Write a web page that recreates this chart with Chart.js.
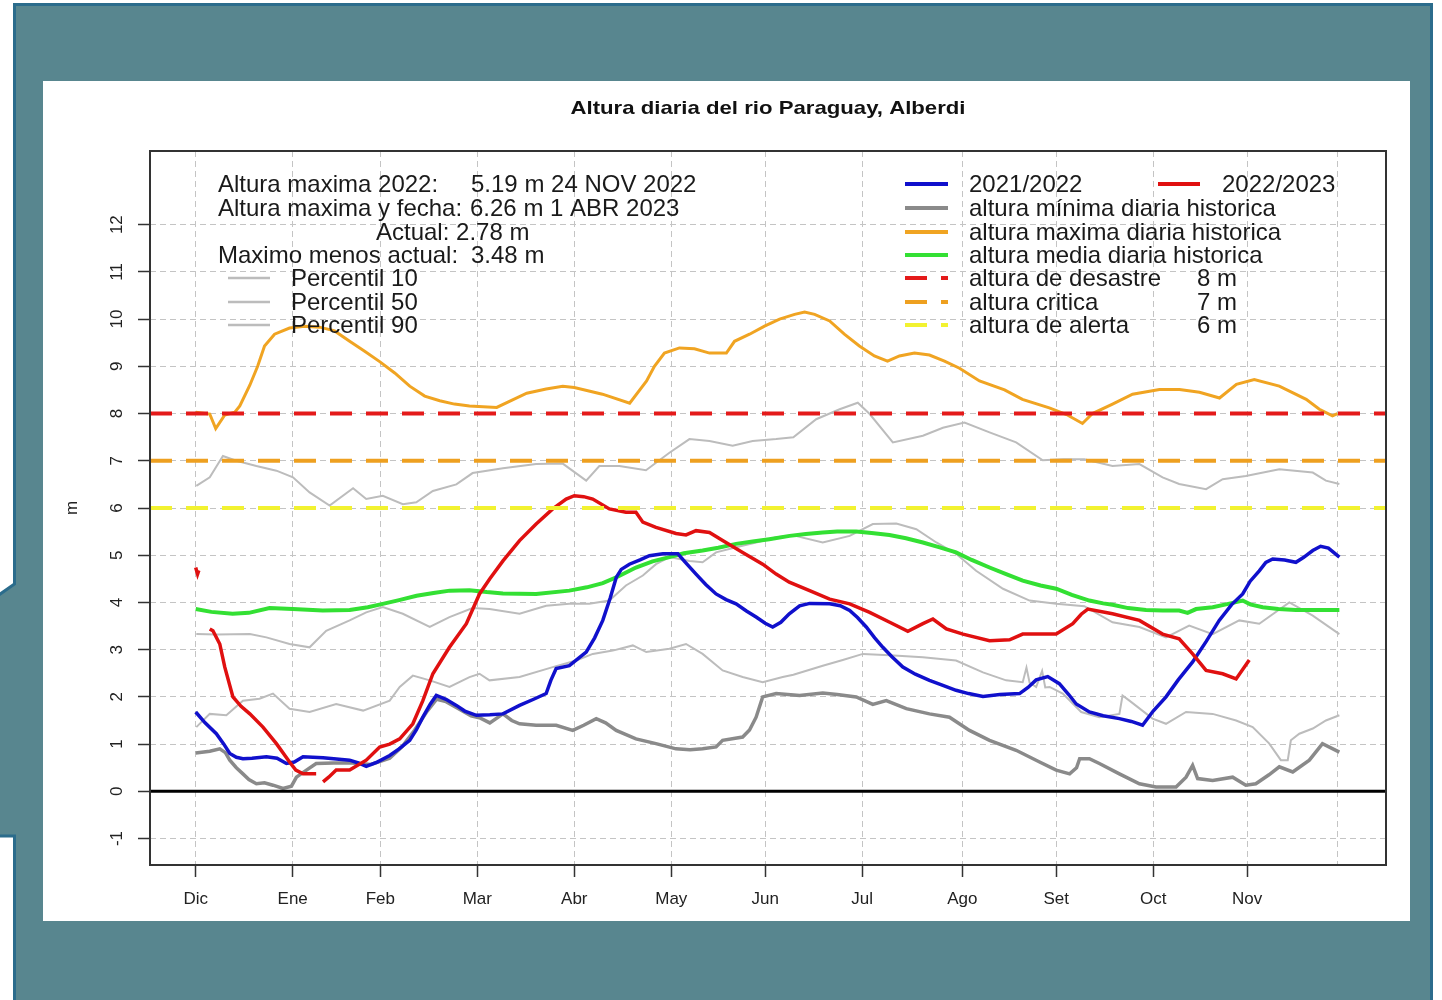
<!DOCTYPE html>
<html>
<head>
<meta charset="utf-8">
<title>Altura diaria del rio Paraguay, Alberdi</title>
<script src="https://cdn.jsdelivr.net/npm/chart.js@4.4.1/dist/chart.umd.min.js"></script>
<style>
  html, body { margin: 0; padding: 0; background: #fff; }
  body { width: 1442px; height: 1000px; position: relative; overflow: hidden; }
  #frame { position: absolute; left: 0; top: 0; }
  #panel { position: absolute; left: 43px; top: 81px; width: 1367px; height: 840px; background: #fff; }
  #chart { display: block; }
</style>
</head>
<body>
<svg id="frame" width="1442" height="1000">
  <path d="M14.5 1003 L14.5 836 L-4 836 L-4 597 L14.5 584 L14.5 4.5 L1431.5 4.5 L1431.5 1003 Z"
        fill="#58868f" stroke="#2b6c8c" stroke-width="3"/>
</svg>
<div id="panel"><canvas id="chart" width="1367" height="840"></canvas></div>
<script>
// days counted from 1 December, heights in metres
const monthTicks = [0, 31, 59, 90, 121, 152, 182, 213, 245, 275, 306, 336, 365];
const monthNames = ["Dic", "Ene", "Feb", "Mar", "Abr", "May", "Jun", "Jul", "Ago", "Set", "Oct", "Nov", ""];
const yTicks = [-1, 0, 1, 2, 3, 4, 5, 6, 7, 8, 9, 10, 11, 12];

const serie2122 = [[0,1.68],[3,1.45],[6.6,1.22],[9,1.0],[10.9,0.8],[13,0.72],[15.1,0.69],[18,0.7],[22.6,0.73],[26,0.7],[29,0.59],[31.5,0.62],[34.3,0.73],[40.7,0.71],[49.2,0.66],[52,0.6],[54.5,0.53],[58,0.62],[62,0.76],[65,0.9],[68.4,1.08],[70.5,1.3],[72.6,1.57],[75,1.85],[76.9,2.03],[80,1.95],[83.3,1.82],[86,1.7],[89.7,1.61],[94,1.62],[98.2,1.64],[103.5,1.82],[108,1.95],[112,2.07],[113.5,2.35],[115.2,2.6],[119.4,2.66],[124.8,2.95],[127.5,3.25],[130.1,3.62],[132.5,4.1],[134.4,4.53],[136,4.7],[138.6,4.81],[142,4.9],[145,4.99],[149.3,5.03],[154.1,5.03],[156.5,4.85],[159.9,4.6],[163,4.38],[166.3,4.18],[169.5,4.06],[172.7,3.97],[176,3.82],[179.1,3.69],[182,3.56],[184.4,3.48],[187,3.58],[189.7,3.76],[193,3.93],[196.2,3.98],[202.6,3.97],[206,3.93],[209,3.83],[211.5,3.68],[214.3,3.48],[217,3.25],[219.6,3.05],[222.5,2.85],[226,2.63],[230,2.48],[234.5,2.35],[239,2.24],[243,2.14],[247,2.07],[251.6,2.01],[257,2.05],[263.3,2.07],[266,2.2],[268.6,2.36],[272.3,2.43],[276,2.28],[279,2.05],[281.4,1.85],[285.6,1.68],[290,1.6],[295.2,1.54],[299,1.48],[302.6,1.4],[306,1.7],[310.1,2.0],[314,2.36],[318.6,2.74],[323,3.18],[327.1,3.62],[331,3.95],[334.6,4.18],[337,4.45],[339.9,4.67],[342,4.85],[344.2,4.92],[348,4.9],[351.6,4.85],[354,4.95],[357,5.1],[359.5,5.19],[362,5.15],[365.5,4.96]];

const serie2223 = [[0,4.74],[0.6,4.6],[1,4.68],[2.5,null],[4.5,3.44],[5.5,3.4],[7.7,3.12],[9.3,2.63],[11.9,2.0],[14.5,1.8],[17.3,1.64],[21.5,1.36],[25.8,1.01],[30,0.62],[32,0.45],[34.3,0.37],[38.5,0.37],[39.6,null],[40.7,0.2],[42.5,0.3],[44.9,0.45],[49.2,0.45],[54.5,0.66],[58.8,0.94],[62,1.0],[65.2,1.11],[69.4,1.43],[72.6,1.92],[75.8,2.49],[81.1,3.05],[86.5,3.55],[90.7,4.18],[94,4.5],[98.2,4.88],[103.5,5.31],[108.8,5.66],[114.1,5.98],[118.4,6.19],[121,6.26],[124,6.24],[126.9,6.19],[132.2,5.98],[137.5,5.91],[140.7,5.91],[142.9,5.7],[147.1,5.59],[153.5,5.46],[156.7,5.43],[159.9,5.52],[164.2,5.48],[168.4,5.31],[174.8,5.06],[181.2,4.81],[185.5,4.6],[189.7,4.43],[196.2,4.25],[202.6,4.07],[209,3.97],[215.4,3.79],[221.8,3.58],[227.6,3.39],[232.4,3.55],[235.6,3.65],[239.9,3.44],[245.2,3.33],[253.7,3.19],[260.1,3.21],[264.3,3.33],[275,3.33],[280.3,3.55],[283,3.75],[285.1,3.86],[293,3.76],[301.6,3.62],[309,3.33],[314.3,3.23],[318.6,2.91],[322.9,2.56],[328.2,2.49],[332.5,2.38],[336.7,2.78]];

const minHist = [[0,0.81],[4.5,0.85],[7.7,0.9],[9.5,0.82],[10.9,0.66],[13,0.5],[15.1,0.37],[17,0.25],[19.4,0.16],[22,0.18],[24.7,0.13],[27.9,0.06],[30.6,0.11],[32.2,0.3],[35.4,0.45],[38.5,0.59],[44,0.6],[50,0.6],[56,0.57],[62,0.7],[66,0.95],[70,1.3],[74,1.7],[77,1.95],[80,1.9],[84,1.75],[88,1.6],[91,1.55],[94,1.45],[98.2,1.64],[101,1.5],[103.5,1.43],[108.8,1.4],[115.2,1.4],[120.5,1.29],[124,1.4],[128,1.54],[131,1.45],[134.4,1.29],[140.7,1.11],[147.1,1.01],[153.5,0.9],[158,0.88],[162,0.9],[166.3,0.94],[168.4,1.08],[174.8,1.15],[177,1.3],[179.1,1.57],[181.2,2.0],[185.5,2.07],[193,2.03],[200.4,2.08],[205,2.05],[211.1,2.0],[216.4,1.84],[220.7,1.92],[227.1,1.75],[234.5,1.64],[240.9,1.57],[247.3,1.29],[253.7,1.08],[262.2,0.87],[269.7,0.62],[275,0.45],[279.3,0.37],[281.5,0.5],[282.5,0.69],[285.6,0.69],[288.8,0.59],[295.2,0.37],[301.6,0.16],[306.9,0.09],[313.3,0.09],[316.5,0.3],[318.6,0.55],[320.2,0.27],[325,0.23],[331.4,0.3],[335.6,0.13],[338.8,0.16],[343,0.35],[346.3,0.52],[350.6,0.41],[355.9,0.66],[360.1,1.01],[365.5,0.83]];

const maxHist = [[0,8.03],[4.5,7.99],[6.4,7.68],[9.3,7.97],[12.5,8.03],[14.1,8.16],[17.3,8.6],[19.8,9.0],[22,9.43],[25.2,9.68],[30,9.81],[34.8,9.85],[39.6,9.83],[44.4,9.75],[49.2,9.53],[54,9.32],[58.8,9.1],[63.6,8.86],[68.4,8.58],[73.2,8.37],[78,8.27],[82.7,8.2],[87.5,8.16],[96.2,8.13],[105.8,8.43],[112,8.52],[117.3,8.58],[121,8.55],[130,8.41],[138.7,8.22],[144.1,8.69],[146.6,9.0],[149.8,9.28],[154.6,9.39],[159.4,9.37],[164.2,9.28],[169.6,9.28],[172.2,9.53],[177,9.68],[181.8,9.85],[186.6,10.0],[191.4,10.1],[194.6,10.15],[197.8,10.1],[202.6,9.96],[207.3,9.68],[212.1,9.43],[216.9,9.22],[221.1,9.11],[224.9,9.22],[229.7,9.28],[234.5,9.24],[239.3,9.11],[244.1,8.96],[250.5,8.69],[258.5,8.5],[264.2,8.3],[272.8,8.12],[278.3,7.98],[283.4,7.79],[286.6,8.0],[293,8.2],[299.4,8.41],[308,8.51],[314.4,8.51],[320.8,8.45],[327.2,8.33],[332.6,8.62],[338.3,8.72],[346.3,8.58],[354.9,8.3],[359.1,8.09],[363.3,7.95],[364.9,8.0]];

const meanHist = [[0,3.86],[5,3.8],[11.8,3.76],[17,3.78],[23.6,3.88],[31,3.86],[40.6,3.83],[49.2,3.84],[55,3.9],[59.8,3.97],[65,4.05],[70.6,4.14],[76,4.2],[81.2,4.25],[87.5,4.26],[93,4.22],[98.2,4.19],[108.8,4.18],[119.4,4.25],[125,4.32],[130.1,4.41],[135,4.55],[140.7,4.74],[146,4.87],[151.4,4.96],[156,5.04],[162,5.1],[167,5.16],[172.7,5.24],[178,5.29],[183.3,5.34],[189.8,5.41],[195,5.45],[200.4,5.48],[205,5.5],[211.1,5.5],[216,5.47],[221.7,5.43],[227,5.36],[232.4,5.27],[237.5,5.17],[243,5.06],[248,4.9],[253.7,4.74],[259,4.6],[264.3,4.46],[270,4.36],[275,4.29],[280,4.16],[285.6,4.04],[290,3.98],[293,3.95],[298,3.88],[303.7,3.84],[309,3.83],[314.3,3.83],[317,3.78],[319.7,3.86],[325,3.9],[330,3.97],[334.6,4.04],[337,3.96],[341,3.9],[346,3.86],[351.6,3.84],[358,3.84],[365.5,3.84]];

const perc90 = [[0.2,6.47],[4.5,6.65],[8.7,7.1],[13,7.0],[19.4,6.89],[25.8,6.79],[31.1,6.65],[36.4,6.33],[42.8,6.05],[50.3,6.42],[54.5,6.19],[59.8,6.26],[66.2,6.08],[70.5,6.12],[75.8,6.36],[83.3,6.5],[88.5,6.74],[98.2,6.84],[108.8,6.93],[117.3,6.94],[124.8,6.58],[129,6.89],[135.4,6.89],[143.9,6.8],[151.4,7.17],[157.8,7.46],[164.2,7.42],[171.6,7.32],[178,7.42],[185.5,7.46],[191,7.5],[198.3,7.88],[205.8,8.09],[211.6,8.23],[215.4,7.99],[222.8,7.39],[232.4,7.53],[238.8,7.7],[245.7,7.81],[253.7,7.6],[262.2,7.39],[270.7,7.01],[277.1,7.03],[284,7.03],[293,6.89],[301.6,6.93],[309,6.65],[314.3,6.51],[322.9,6.4],[328.2,6.61],[335.6,6.68],[346.3,6.82],[357,6.75],[361.2,6.58],[365.5,6.51]];

const perc50 = [[0.2,3.33],[6.6,3.32],[17.3,3.33],[22.6,3.26],[30,3.12],[36.4,3.05],[41.7,3.4],[49.2,3.62],[54.5,3.79],[59.8,3.9],[66.2,3.76],[74.8,3.48],[81.1,3.69],[88.5,3.88],[93.9,3.86],[103.5,3.76],[112,3.93],[119.4,3.97],[125.8,3.97],[132.2,4.04],[137.5,4.36],[142.9,4.57],[147.1,4.81],[151.4,4.96],[157.8,4.88],[162,4.85],[166.3,5.06],[172.7,5.17],[179.1,5.27],[185.5,5.38],[191,5.42],[200.4,5.27],[209,5.41],[216.4,5.66],[223.9,5.67],[230.3,5.55],[236.7,5.27],[243,5.03],[249.4,4.67],[258,4.29],[266.5,4.04],[275,3.97],[284,3.92],[293,3.58],[301.6,3.48],[310.1,3.26],[317.5,3.51],[325,3.33],[333.5,3.62],[339.9,3.55],[349.5,4.0],[357,3.72],[365.5,3.33]];

const perc10 = [[0.2,1.36],[4.5,1.64],[9.8,1.61],[15.1,1.92],[20.4,1.96],[24.7,2.07],[30,1.75],[36.4,1.68],[44.9,1.85],[53.5,1.71],[62,1.92],[65.2,2.21],[69.4,2.45],[74.8,2.35],[81.1,2.21],[87.5,2.42],[90.7,2.49],[93.9,2.35],[103.5,2.42],[114.1,2.63],[121.6,2.77],[126.9,2.91],[133.3,2.98],[139.7,3.09],[144,2.95],[151.4,3.02],[156.7,3.12],[162,2.91],[168.4,2.56],[174.8,2.42],[181.2,2.31],[187.6,2.42],[191,2.47],[200.4,2.66],[206.8,2.78],[213.2,2.91],[221.8,2.88],[232.4,2.84],[243,2.77],[251.6,2.52],[259,2.35],[264.3,2.31],[265.5,2.62],[266.5,2.3],[268.6,2.21],[270.5,2.55],[271.5,2.2],[272.9,2.21],[277.1,2.07],[283,1.68],[288.8,1.57],[295.2,1.64],[296.2,2.03],[298.4,1.92],[305.8,1.54],[310.1,1.43],[316.5,1.68],[325,1.64],[332.5,1.5],[337.8,1.36],[343.1,1.01],[346.8,0.66],[349,0.66],[350,1.08],[352.7,1.22],[357,1.33],[361.2,1.5],[365.5,1.61]];

const X_MIN = -14.6, X_MAX = 380.4;
const nivelDesastre = 8, nivelCritico = 7, nivelAlerta = 6;

const FONT = '"Liberation Sans", Arial, sans-serif';
const pts = arr => arr.map(([x, y]) => ({ x: x, y: y }));
const hLine = v => [{ x: X_MIN, y: v }, { x: X_MAX, y: v }];

function lineSet(label, data, color, width, extra) {
    return Object.assign({
        label: label,
        data: data,
        borderColor: color,
        backgroundColor: color,
        borderWidth: width,
        pointRadius: 0,
        tension: 0,
        fill: false,
        spanGaps: false
    }, extra || {});
}

// R style legend text and box, drawn over the series
const plotText = {
    id: "plotText",
    afterDatasetsDraw(chart) {
        const { ctx, chartArea: a } = chart;
        ctx.save();

        ctx.strokeStyle = "#333";
        ctx.lineWidth = 2;
        ctx.setLineDash([]);
        ctx.strokeRect(a.left, a.top, a.right - a.left, a.bottom - a.top);

        // title, stretched to the width of the original device text
        const title = "Altura diaria del rio Paraguay, Alberdi";
        ctx.fillStyle = "#111";
        ctx.textBaseline = "alphabetic";
        ctx.textAlign = "center";
        ctx.font = "bold 19px " + FONT;
        const sx = 395 / ctx.measureText(title).width;
        ctx.save();
        ctx.translate((a.left + a.right) / 2, 33);
        ctx.scale(sx, 1);
        ctx.fillText(title, 0, 0);
        ctx.restore();

        ctx.textAlign = "left";
        ctx.font = "24px " + FONT;
        const rows = [111, 135, 159, 182, 205, 229, 252];
        ctx.fillStyle = "#1a1a1a";
        ctx.fillText("Altura maxima 2022:", 175, rows[0]);
        ctx.fillText("5.19 m 24 NOV 2022", 428, rows[0]);
        ctx.fillText("Altura maxima y fecha:", 175, rows[1]);
        ctx.fillText("6.26 m 1 ABR 2023", 427, rows[1]);
        ctx.fillText("Actual: 2.78 m", 333, rows[2]);
        ctx.fillText("Maximo menos actual:", 175, rows[3]);
        ctx.fillText("3.48 m", 428, rows[3]);

        const sym = (x1, x2, y, color, w, dash) => {
            ctx.beginPath();
            ctx.strokeStyle = color;
            ctx.lineWidth = w;
            ctx.setLineDash(dash || []);
            ctx.moveTo(x1, y);
            ctx.lineTo(x2, y);
            ctx.stroke();
        };

        ["Percentil 10", "Percentil 50", "Percentil 90"].forEach((t, i) => {
            sym(185, 227, rows[4 + i] - 8, "#bcbcbc", 2.5);
            ctx.fillText(t, 248, rows[4 + i]);
        });

        sym(862, 905, rows[0] - 8, "#1010cc", 4);
        ctx.fillText("2021/2022", 926, rows[0]);
        sym(1115, 1157, rows[0] - 8, "#e01010", 4);
        ctx.fillText("2022/2023", 1179, rows[0]);

        const right = [
            ["altura mínima diaria historica", "#8a8a8a", null, ""],
            ["altura maxima diaria historica", "#f0a422", null, ""],
            ["altura media diaria historica", "#33e033", null, ""],
            ["altura de desastre", "#e41a1a", [22, 14], nivelDesastre + " m"],
            ["altura critica", "#eea020", [22, 14], nivelCritico + " m"],
            ["altura de alerta", "#f2f230", [22, 14], nivelAlerta + " m"]
        ];
        right.forEach((r, i) => {
            const y = rows[i + 1];
            sym(862, 905, y - 8, r[1], 4, r[2]);
            ctx.fillText(r[0], 926, y);
            if (r[3]) ctx.fillText(r[3], 1154, y);
        });

        ctx.restore();
    }
};

const tickFont = { family: FONT, size: 17 };

new Chart(document.getElementById("chart"), {
    type: "line",
    data: {
        datasets: [
            lineSet("altura de desastre", hLine(nivelDesastre), "#e41a1a", 4, { borderDash: [22, 14] }),
            lineSet("altura critica", hLine(nivelCritico), "#eea020", 4, { borderDash: [22, 14] }),
            lineSet("altura de alerta", hLine(nivelAlerta), "#f2f230", 4, { borderDash: [22, 14] }),
            lineSet("cero", hLine(0), "#000", 3),
            lineSet("2022/2023", pts(serie2223), "#e01010", 3.5),
            lineSet("2021/2022", pts(serie2122), "#1010cc", 3.5),
            lineSet("altura media diaria historica", pts(meanHist), "#33e033", 4),
            lineSet("altura maxima diaria historica", pts(maxHist), "#f0a422", 3),
            lineSet("altura minima diaria historica", pts(minHist), "#8a8a8a", 3.5),
            lineSet("Percentil 90", pts(perc90), "#bcbcbc", 2),
            lineSet("Percentil 50", pts(perc50), "#bcbcbc", 2),
            lineSet("Percentil 10", pts(perc10), "#bcbcbc", 2)
        ]
    },
    options: {
        responsive: false,
        animation: false,
        devicePixelRatio: 1,
        layout: { padding: { top: 70, right: 24, left: 0, bottom: 0 } },
        plugins: {
            legend: { display: false },
            title: { display: false },
            tooltip: { enabled: false }
        },
        scales: {
            x: {
                type: "linear",
                min: X_MIN,
                max: X_MAX,
                afterBuildTicks: s => { s.ticks = monthTicks.map(v => ({ value: v })); },
                afterFit: s => { s.height = 56; },
                grid: {
                    color: "#c4c4c4",
                    lineWidth: 1,
                    tickLength: 12,
                    tickWidth: 1.5,
                    tickColor: c => (c.index === monthTicks.length - 1 ? "rgba(0,0,0,0)" : "#333")
                },
                border: { display: false, dash: [6, 4] },
                ticks: {
                    autoSkip: false,
                    maxRotation: 0,
                    padding: 12,
                    color: "#222",
                    font: tickFont,
                    callback: (v, i) => monthNames[i]
                }
            },
            y: {
                type: "linear",
                min: -1.56,
                max: 13.56,
                afterBuildTicks: s => { s.ticks = yTicks.map(v => ({ value: v })); },
                afterFit: s => { s.width = 107; },
                grid: {
                    color: "#c4c4c4",
                    lineWidth: 1,
                    tickLength: 12,
                    tickWidth: 1.5,
                    tickColor: "#333"
                },
                border: { display: false, dash: [6, 4] },
                ticks: {
                    minRotation: 90,
                    maxRotation: 90,
                    crossAlign: "center",
                    padding: 11,
                    color: "#222",
                    font: tickFont
                },
                title: {
                    display: true,
                    text: "m",
                    color: "#222",
                    font: tickFont,
                    padding: { top: 19, bottom: 0 }
                }
            }
        }
    },
    plugins: [plotText]
});
</script>
</body>
</html>
